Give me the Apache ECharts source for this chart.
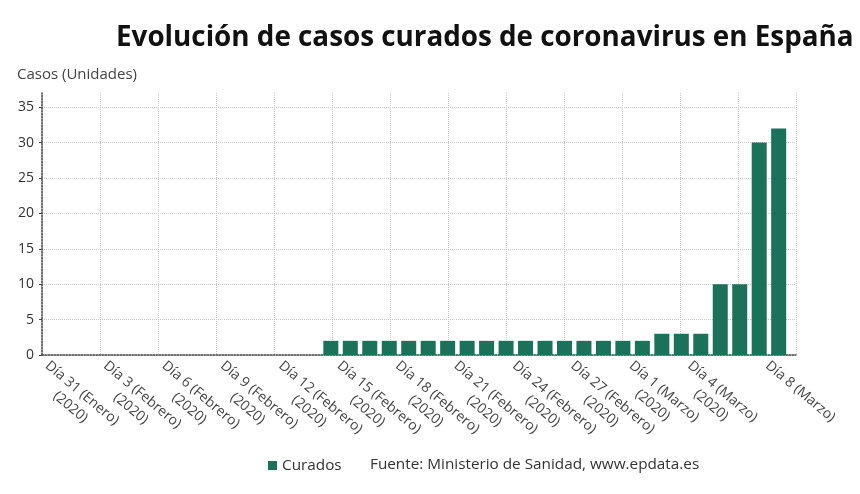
<!DOCTYPE html>
<html>
<head>
<meta charset="utf-8">
<script src="https://cdn.jsdelivr.net/npm/echarts@6/dist/echarts.min.js"></script>
<style>
  html, body { margin: 0; padding: 0; background: #fff; }
  #main-chart { width: 860px; height: 494px; }
</style>
</head>
<body>
<div id="main-chart"></div>
<script>
// dias (31 enero - 8 marzo 2020)
const categories = [
  'Día 31 (Enero)\n(2020)',
  'Día 1 (Febrero)\n(2020)', 'Día 2 (Febrero)\n(2020)', 'Día 3 (Febrero)\n(2020)',
  'Día 4 (Febrero)\n(2020)', 'Día 5 (Febrero)\n(2020)', 'Día 6 (Febrero)\n(2020)',
  'Día 7 (Febrero)\n(2020)', 'Día 8 (Febrero)\n(2020)', 'Día 9 (Febrero)\n(2020)',
  'Día 10 (Febrero)\n(2020)', 'Día 11 (Febrero)\n(2020)', 'Día 12 (Febrero)\n(2020)',
  'Día 13 (Febrero)\n(2020)', 'Día 14 (Febrero)\n(2020)', 'Día 15 (Febrero)\n(2020)',
  'Día 16 (Febrero)\n(2020)', 'Día 17 (Febrero)\n(2020)', 'Día 18 (Febrero)\n(2020)',
  'Día 19 (Febrero)\n(2020)', 'Día 20 (Febrero)\n(2020)', 'Día 21 (Febrero)\n(2020)',
  'Día 22 (Febrero)\n(2020)', 'Día 23 (Febrero)\n(2020)', 'Día 24 (Febrero)\n(2020)',
  'Día 25 (Febrero)\n(2020)', 'Día 26 (Febrero)\n(2020)', 'Día 27 (Febrero)\n(2020)',
  'Día 28 (Febrero)\n(2020)', 'Día 29 (Febrero)\n(2020)',
  'Día 1 (Marzo)\n(2020)', 'Día 2 (Marzo)\n(2020)', 'Día 3 (Marzo)\n(2020)',
  'Día 4 (Marzo)\n(2020)', 'Día 5 (Marzo)\n(2020)', 'Día 6 (Marzo)\n(2020)',
  'Día 7 (Marzo)\n(2020)', 'Día 8 (Marzo)'
]

const curados = [
  0, 0, 0, 0, 0, 0, 0, 0, 0, 0, 0, 0, 0, 0,
  2, 2, 2, 2, 2, 2, 2, 2, 2, 2, 2, 2, 2, 2, 2, 2,
  2, 3, 3, 3, 10, 10, 30, 32
]

const yTicks = [0, 5, 10, 15, 20, 25, 30, 35]

const titulo = 'Evolución de casos curados de coronavirus en España'
const unidades = 'Casos (Unidades)'
const fuente = 'Fuente: Ministerio de Sanidad, www.epdata.es'

const font = '"Open Sans", "Noto Sans", sans-serif'
const verde = '#1b7159'

// que etiquetas se ven en el eje x
const showLabel = (i) => (i % 3 === 0 && i !== 36) || i === categories.length - 1

const myChart = echarts.init(document.getElementById('main-chart'), null, { renderer: 'canvas' })

const option = {
  animation: false,
  textStyle: { fontFamily: font },
  title: [
    {
      text: titulo,
      left: 116, top: 24, padding: 0,
      textStyle: { fontSize: 27.8, fontWeight: 'bold', color: '#111', fontFamily: font }
    },
    {
      text: unidades,
      left: 17, top: 67, padding: 0,
      textStyle: { fontSize: 15, fontWeight: 'normal', color: '#444', fontFamily: font }
    },
    {
      text: fuente,
      left: 370, top: 457, padding: 0,
      textStyle: { fontSize: 15.3, fontWeight: 'normal', color: '#333', fontFamily: font }
    }
  ],
  legend: {
    data: ['Curados'],
    left: 268, top: 458, padding: 0,
    icon: 'rect', itemWidth: 9, itemHeight: 9, itemGap: 6,
    textStyle: { fontSize: 15.3, color: '#333', fontFamily: font }
  },
  grid: [
    // marco con las rejillas
    { left: 42, right: 64, top: 93, bottom: 139 },
    // barras
    { left: 48.5, right: 71.6, top: 93, bottom: 139 },
    // etiquetas (un poco desplazadas)
    { left: 43, right: 77.1, top: 93, bottom: 139 }
  ],
  xAxis: [
    {
      gridIndex: 0, type: 'value', min: 0, max: 13, interval: 1,
      axisLabel: { show: false },
      axisTick: { show: false },
      axisLine: { show: true, lineStyle: { color: '#444', type: 'dotted', width: 1.5 } },
      splitLine: { show: true, lineStyle: { color: '#c8c8c8', type: 'dotted' } }
    },
    {
      gridIndex: 1, type: 'category', data: categories, show: false
    },
    {
      gridIndex: 2, type: 'category', data: categories,
      axisLine: { show: false },
      axisTick: { show: false },
      splitLine: { show: false },
      axisLabel: {
        interval: (i) => showLabel(i),
        rotate: -40,
        margin: 2,
        align: 'left',
        verticalAlign: 'top',
        color: '#444',
        fontSize: 14,
        fontFamily: font,
        formatter: (v) => {
          const parts = v.split('\n')
          return parts.length > 1 ? '{a|' + parts[0] + '}\n{b|' + parts[1] + '}' : '{a|' + parts[0] + '}'
        },
        rich: {
          a: { fontSize: 14, color: '#444', fontFamily: font, lineHeight: 18 },
          b: { fontSize: 14, color: '#444', fontFamily: font, lineHeight: 18, align: 'center' }
        }
      }
    }
  ],
  yAxis: [
    {
      gridIndex: 0, type: 'value', min: 0, max: 37, interval: 5,
      axisLine: { show: true, lineStyle: { color: '#444', type: 'dotted', width: 1.5 } },
      axisTick: { show: true, length: 3, lineStyle: { color: '#444' } },
      axisLabel: {
        showMaxLabel: false,
        margin: 8,
        color: '#333',
        fontSize: 14,
        fontFamily: font,
        formatter: (v) => (yTicks.includes(v) ? String(v) : '')
      },
      splitLine: { show: true, showMaxLine: false, lineStyle: { color: '#c8c8c8', type: 'dotted' } }
    },
    { gridIndex: 1, type: 'value', min: 0, max: 37, show: false },
    { gridIndex: 2, type: 'value', min: 0, max: 37, show: false }
  ],
  series: [
    {
      name: 'Curados',
      type: 'bar',
      xAxisIndex: 1,
      yAxisIndex: 1,
      data: curados,
      barWidth: 15,
      itemStyle: { color: verde }
    }
  ]
}

myChart.setOption(option)

window.addEventListener('resize', function () {
  myChart.resize()
})
</script>
</body>
</html>
